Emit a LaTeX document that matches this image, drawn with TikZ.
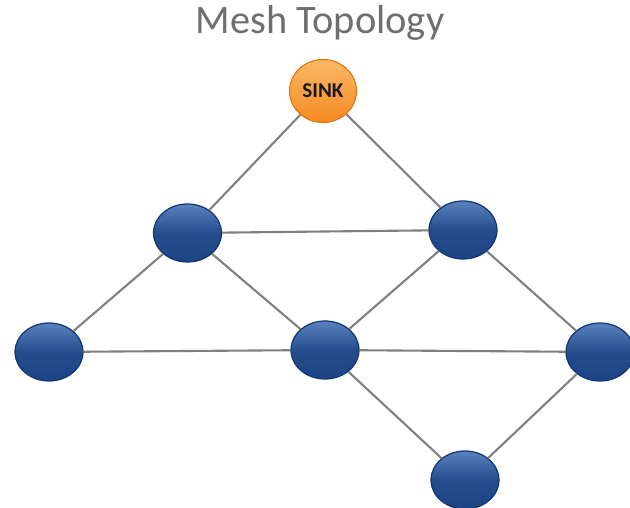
\documentclass[tikz,border=0pt]{standalone}
\usepackage{fontspec}
\setmainfont{Carlito}
\usetikzlibrary{shapes.geometric}
\definecolor{nodeblue}{HTML}{1C4485}
\definecolor{nodelight}{HTML}{5A82BE}
\definecolor{nodeedge}{HTML}{143670}
\definecolor{sinkorange}{HTML}{F58A1F}
\definecolor{sinklight}{HTML}{FBB868}
\definecolor{sinkedge}{HTML}{E07010}
\definecolor{linkgray}{HTML}{808080}
\definecolor{titlegray}{HTML}{6E6E6E}

\begin{document}
\begin{tikzpicture}[
  mote/.style={ellipse, draw=nodeedge, line width=0.7pt, top color=nodelight, bottom color=nodeblue, middle color=nodeblue!85!nodelight, minimum width=1.36cm, minimum height=1.16cm, inner sep=0pt},
  sink/.style={ellipse, draw=sinkedge, line width=0.6pt, top color=sinklight, bottom color=sinkorange, minimum width=1.34cm, minimum height=1.26cm, inner sep=0pt, font=\bfseries\fontsize{12}{14}\selectfont, text=black!90},
  link/.style={draw=linkgray, line width=1.2pt}
]
\useasboundingbox (0,0) rectangle (12.6,10.16);
\node[text=titlegray, font=\fontsize{23}{27}\selectfont] (title) at (6.4,9.7) {Mesh Topology};

\node[sink] (sink) at (6.46,8.34) {SINK};
\node[mote] (a) at (3.75,5.5) {};
\node[mote] (b) at (9.26,5.56) {};
\node[mote] (c) at (0.98,3.12) {};
\node[mote] (d) at (6.5,3.16) {};
\node[mote] (e) at (12.0,3.12) {};
\node[mote] (f) at (9.3,0.56) {};

\draw[link] (sink)--(a) (sink)--(b);
\draw[link] (a)--(b) (a)--(c) (a)--(d);
\draw[link] (b)--(d) (b)--(e);
\draw[link] (c)--(d) (d)--(e);
\draw[link] (d)--(f) (e)--(f);
\end{tikzpicture}
\end{document}
